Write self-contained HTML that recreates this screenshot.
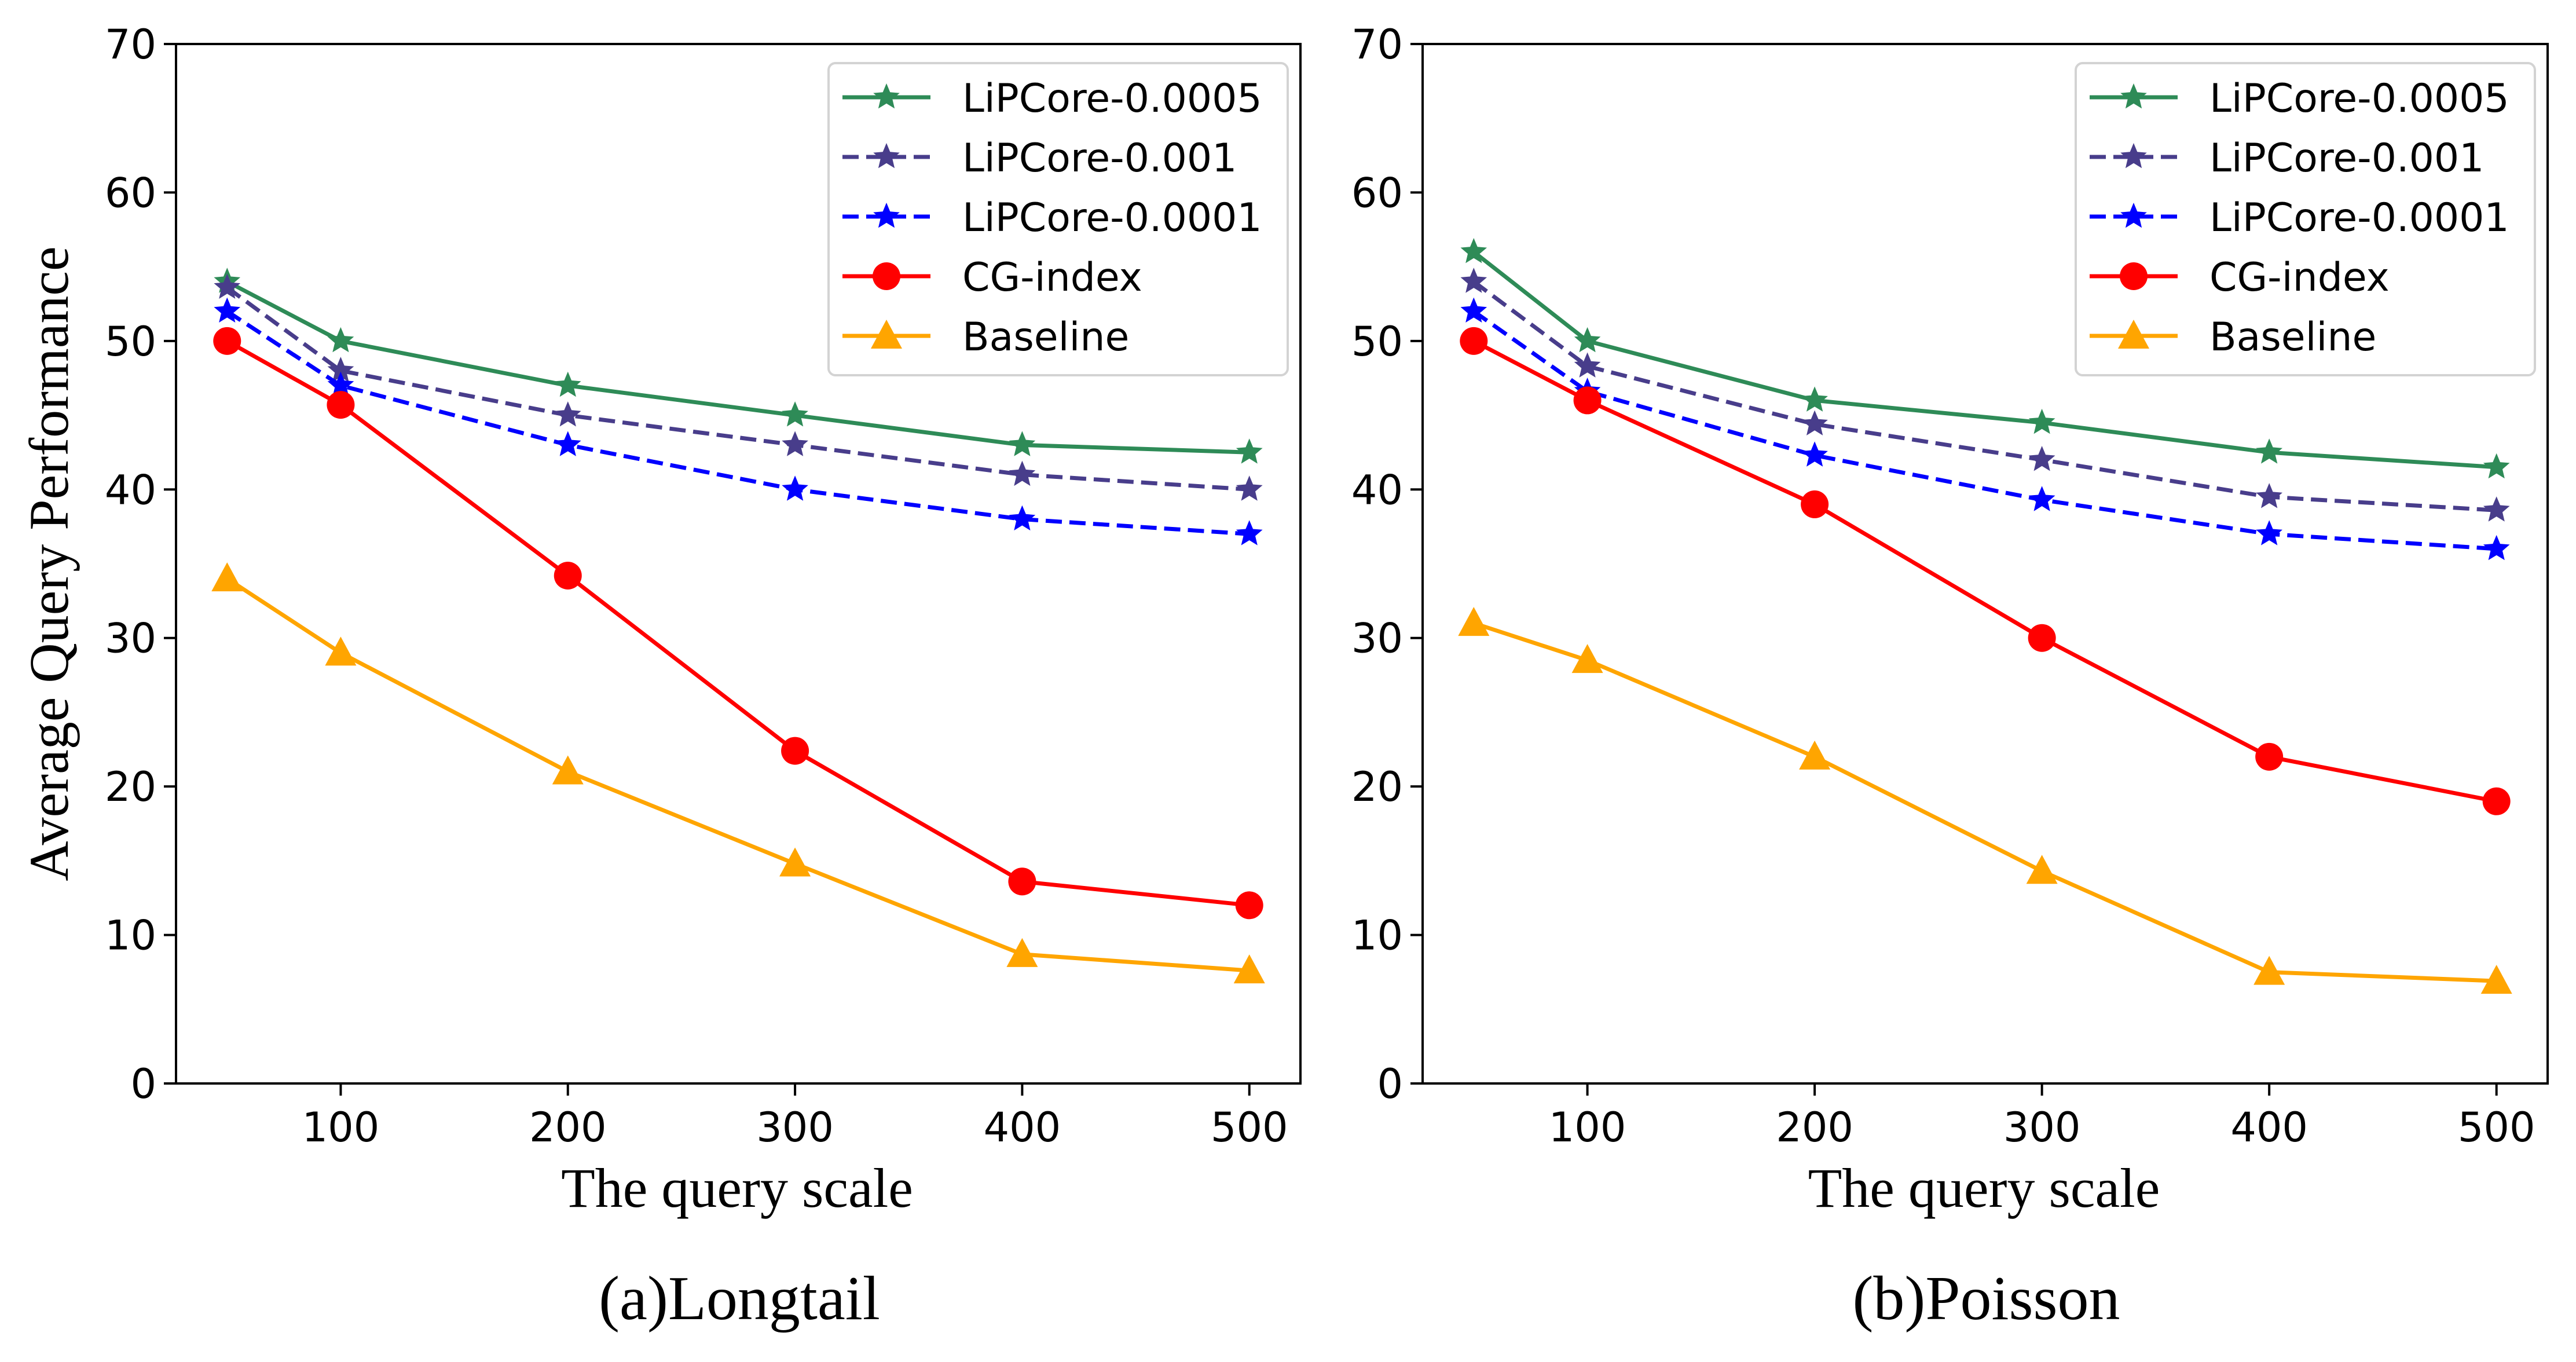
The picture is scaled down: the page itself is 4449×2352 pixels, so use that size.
<!DOCTYPE html>
<html><head><meta charset="utf-8">
<style>
html,body{margin:0;padding:0;background:#fff;}
svg{display:block;}
</style></head>
<body>
<svg id="fig" width="4449" height="2352" viewBox="0 0 4449 2352" xmlns="http://www.w3.org/2000/svg"></svg>
<script>
const xCats = [50, 100, 200, 300, 400, 500];
const xTicks = [100, 200, 300, 400, 500];
const yTicks = [0, 10, 20, 30, 40, 50, 60, 70];
const seriesNames = ["LiPCore-0.0005", "LiPCore-0.001", "LiPCore-0.0001", "CG-index", "Baseline"];
const longGreen = [54, 50, 47, 45, 43, 42.5];
const longPurple = [53.6, 48, 45, 43, 41, 40];
const longBlue = [52, 47, 43, 40, 38, 37];
const longRed = [50, 45.7, 34.2, 22.4, 13.6, 12];
const longOrange = [34, 29, 21, 14.8, 8.7, 7.6];
const poisGreen = [56, 50, 46, 44.5, 42.5, 41.5];
const poisPurple = [54, 48.3, 44.4, 42, 39.5, 38.6];
const poisBlue = [52, 46.6, 42.3, 39.3, 37, 36];
const poisRed = [50, 46, 39, 30, 22, 19];
const poisOrange = [31, 28.5, 22, 14.3, 7.5, 6.9];

const NS = "http://www.w3.org/2000/svg";
const fig = document.getElementById('fig');
function mk(tag, attrs, parent){
  const e = document.createElementNS(NS, tag);
  for (const k in attrs) e.setAttribute(k, attrs[k]);
  (parent||fig).appendChild(e);
  return e;
}
const styles = [
  {color:"#2e8b57", dash:null, marker:"star"},
  {color:"#483d8b", dash:"28 13", marker:"star"},
  {color:"#0000ff", dash:"28 13", marker:"star"},
  {color:"#ff0000", dash:null, marker:"circle"},
  {color:"#ffa500", dash:null, marker:"tri"}
];
function starPts(cx, cy, R){
  const r = R*0.45; let p = [];
  for (let i=0;i<10;i++){
    const a = -Math.PI/2 + i*Math.PI/5;
    const rr = i%2===0 ? R : r;
    p.push((cx+rr*Math.cos(a)).toFixed(1)+","+(cy+rr*Math.sin(a)).toFixed(1));
  }
  return p.join(" ");
}
function marker(g, type, cx, cy, color){
  let m;
  if (type==="star") m = mk('polygon',{points:starPts(cx,cy,24),fill:color}, g);
  else if (type==="circle") m = mk('circle',{cx:cx,cy:cy,r:24,fill:color}, g);
  else m = mk('polygon',{points:`${cx},${cy-28} ${cx+27},${cy+22} ${cx-27},${cy+22}`,fill:color}, g);
  
  
}
function panel(px0, px1, py0, py1, data, caption, showYLabel, key){
  const g = mk('g',{});
  
  
  const xmin = 27.5, xmax = 522.5, ymin = 0, ymax = 70;
  const X = v => px0 + (v - xmin)/(xmax - xmin)*(px1 - px0);
  const Y = v => py1 - (v - ymin)/(ymax - ymin)*(py1 - py0);
  data.forEach((vals, si) => {
    const st = styles[si];
    const sg = mk('g',{}, g);
    
    
    const pts = vals.map((v,i)=>X(xCats[i]).toFixed(1)+","+Y(v).toFixed(1)).join(" ");
    const pl = mk('polyline',{points:pts,fill:"none",stroke:st.color,"stroke-width":7,"stroke-linejoin":"round"}, sg);
    if (st.dash) pl.setAttribute('stroke-dasharray', st.dash);
    
    
    vals.forEach((v,i)=>marker(sg, st.marker, X(xCats[i]), Y(v), st.color));
  });
  const fr = mk('rect',{x:px0,y:py0,width:px1-px0,height:py1-py0,fill:"none",stroke:"#000","stroke-width":4}, g);
  
  
  xTicks.forEach(t=>{
    const x = X(t);
    const tl = mk('line',{x1:x,x2:x,y1:py1,y2:py1+21,stroke:"#000","stroke-width":4}, g);
    
    
    const tx = mk('text',{x:x,y:py1+100,"text-anchor":"middle","font-family":"DejaVu Sans, sans-serif","font-size":70,fill:"#000"}, g);
    tx.textContent = t;
    
    
  });
  yTicks.forEach(t=>{
    const y = Y(t);
    const tl = mk('line',{x1:px0-21,x2:px0,y1:y,y2:y,stroke:"#000","stroke-width":4}, g);
    
    
    const tx = mk('text',{x:px0-34,y:y+25,"text-anchor":"end","font-family":"DejaVu Sans, sans-serif","font-size":70,fill:"#000"}, g);
    tx.textContent = t;
    
    
  });
  const cx = (px0+px1)/2;
  const xt = mk('text',{x:cx-2,y:2084,"text-anchor":"middle","font-family":"Liberation Serif, serif","font-size":96,fill:"#000"}, g);
  xt.textContent = "The query scale";
  
  
  const cap = mk('text',{x:cx+2,y:2278,"text-anchor":"middle","font-family":"Liberation Serif, serif","font-size":108,fill:"#000"}, g);
  cap.textContent = caption;
  
  
  if (showYLabel){
    const yt = mk('text',{x:0,y:0,"text-anchor":"middle","font-family":"Liberation Serif, serif","font-size":96,fill:"#000",transform:`translate(117,${(py0+py1)/2}) rotate(-90)`}, g);
    yt.textContent = "Average Query Performance";
    
    
  }
  const lx = px1 - 815, ly = py0 + 33;
  const lg = mk('g',{}, g);
  
  
  mk('rect',{x:lx,y:ly,width:793,height:539,rx:12,fill:"#fff","fill-opacity":0.8,stroke:"#d3d3d3","stroke-width":4}, lg);
  seriesNames.forEach((n,i)=>{
    const st = styles[i];
    const y = ly + 59 + i*103;
    const e = mk('g',{}, lg);
    
    
    const l = mk('line',{x1:lx+24,x2:lx+176,y1:y,y2:y,stroke:st.color,"stroke-width":7}, e);
    if (st.dash) l.setAttribute('stroke-dasharray', st.dash);
    marker(e, st.marker, lx+100, y, st.color);
    const t = mk('text',{x:lx+231,y:y+25,"font-family":"DejaVu Sans, sans-serif","font-size":68,fill:"#000"}, e);
    t.textContent = n;
  });
}
panel(304, 2246, 76, 1871, [longGreen, longPurple, longBlue, longRed, longOrange], "(a)Longtail", true, "longtail");
panel(2457, 4400, 76, 1871, [poisGreen, poisPurple, poisBlue, poisRed, poisOrange], "(b)Poisson", false, "poisson");
</script>
</body></html>
